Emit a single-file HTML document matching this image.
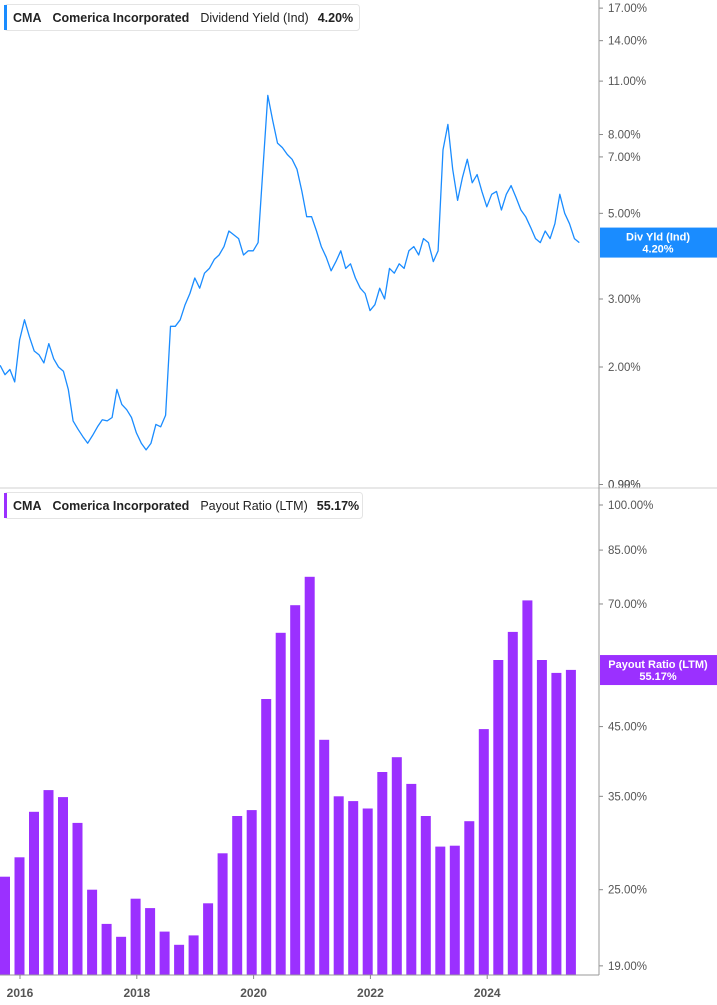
<!DOCTYPE html>
<html><head><meta charset="utf-8"><style>
html,body{margin:0;padding:0;background:#fff;}
svg{display:block;font-family:"Liberation Sans",Arial,sans-serif;}
</style></head><body>
<svg id="chart" width="717" height="1005" viewBox="0 0 717 1005">
<g id="topPanel"></g>
<g id="botPanel"></g>
<line x1="0" y1="488" x2="717" y2="488" stroke="#d0d0d0"/>
<line x1="599" y1="0" x2="599" y2="975" stroke="#999"/>
<line x1="0" y1="975" x2="599" y2="975" stroke="#999"/>
<g id="xaxis"></g>
<g>
<rect x="4.5" y="4.5" width="355" height="26" rx="3" fill="#fff" stroke="#e4e4e4"/>
<rect x="4" y="5" width="3" height="25" fill="#1a8cff"/>
<text x="13" y="22" font-size="12.5" font-weight="bold" fill="#222">CMA<tspan dx="11">Comerica Incorporated</tspan><tspan dx="11" font-weight="normal">Dividend Yield (Ind)</tspan><tspan dx="9">4.20%</tspan></text>
</g>
<g>
<rect x="4.5" y="492.5" width="358" height="26" rx="3" fill="#fff" stroke="#e4e4e4"/>
<rect x="4" y="493" width="3" height="25" fill="#9b30ff"/>
<text x="13" y="510" font-size="12.5" font-weight="bold" fill="#222">CMA<tspan dx="11">Comerica Incorporated</tspan><tspan dx="11" font-weight="normal">Payout Ratio (LTM)</tspan><tspan dx="9">55.17%</tspan></text>
</g>
</svg>
<script>
const yieldStart = 2015.66;
const yieldValues = [2.02,1.91,1.97,1.83,2.35,2.65,2.4,2.2,2.15,2.05,2.3,2.1,2.0,1.95,1.75,1.45,1.38,1.32,1.27,1.33,1.40,1.46,1.45,1.48,1.75,1.60,1.55,1.48,1.35,1.27,1.22,1.27,1.42,1.40,1.50,2.55,2.55,2.65,2.9,3.1,3.4,3.2,3.5,3.6,3.8,3.9,4.1,4.5,4.4,4.3,3.9,4.0,4.0,4.2,6.5,10.1,8.7,7.6,7.4,7.1,6.9,6.5,5.7,4.9,4.9,4.5,4.1,3.85,3.55,3.75,4.0,3.6,3.7,3.4,3.2,3.1,2.8,2.9,3.2,3.0,3.6,3.5,3.7,3.6,4.0,4.1,3.9,4.3,4.2,3.75,4.0,7.3,8.5,6.5,5.4,6.2,6.9,6.0,6.3,5.7,5.2,5.6,5.7,5.1,5.6,5.9,5.5,5.1,4.9,4.6,4.3,4.2,4.5,4.3,4.7,5.6,5.0,4.7,4.3,4.2];
const yieldTicks = [17,14,11,8,7,5,3,2,0.99,0.90];
const payoutStart = 2015.743;
const payoutValues = [26.2,28.1,33.1,35.8,34.9,31.8,25.0,22.1,21.1,24.2,23.4,21.5,20.5,21.2,23.8,28.5,32.6,33.3,49.7,63.1,69.7,77.2,42.9,35.0,34.4,33.5,38.2,40.3,36.6,32.6,29.2,29.3,32.0,44.6,57.2,63.3,70.9,57.2,54.6,55.2];
const payoutTicks = [100,85,70,45,35,25,19];
const xTickYears = [2016,2018,2020,2022,2024];
const lastYield = 4.20, lastPayout = 55.17;

const NS='http://www.w3.org/2000/svg';
function mk(t,a,p){const e=document.createElementNS(NS,t);for(const k in a)e.setAttribute(k,a[k]);p.appendChild(e);return e;}
const xOf = yr => 20 + (yr-2016)*58.4;
const yTop = v => 367 - Math.log(v/2)*167.7;
const yBot = v => 505 + Math.log(100/v)*277.5;
const topG=document.getElementById('topPanel'), botG=document.getElementById('botPanel'), xa=document.getElementById('xaxis');

yieldTicks.forEach(v=>{
  const y=Math.min(yTop(v),484.5);
  const t=mk('text',{x:608,y:y+4,'font-size':11.5,fill:'#555'},topG);
  t.textContent=v.toFixed(2)+'%';
  
  
  mk('line',{x1:599,y1:y,x2:603,y2:y,stroke:'#888'},topG);
});
let d='';
yieldValues.forEach((v,i)=>{const x=xOf(yieldStart+i/12);d+=(i?'L':'M')+x.toFixed(1)+' '+yTop(v).toFixed(1);});
const ln=mk('path',{d:d,fill:'none',stroke:'#1a8cff','stroke-width':1.3,'stroke-linejoin':'round'},topG);


const ty=yTop(lastYield);
const tg=mk('rect',{x:600,y:ty-15,width:117,height:30,fill:'#1a8cff'},topG);


let tt=mk('text',{x:658,y:ty-2,'text-anchor':'middle','font-size':11,'font-weight':'bold',fill:'#fff'},topG);tt.textContent='Div Yld (Ind)';
tt=mk('text',{x:658,y:ty+10,'text-anchor':'middle','font-size':11,'font-weight':'bold',fill:'#fff'},topG);tt.textContent=lastYield.toFixed(2)+'%';

payoutTicks.forEach(v=>{
  const y=yBot(v);
  const t=mk('text',{x:608,y:y+4,'font-size':11.5,fill:'#555'},botG);
  t.textContent=v.toFixed(2)+'%';
  
  
  mk('line',{x1:599,y1:y,x2:603,y2:y,stroke:'#888'},botG);
});
payoutValues.forEach((v,i)=>{
  const cx=xOf(payoutStart+i/4)-i*0.09;
  const y=yBot(v);
  const b=mk('rect',{x:(cx-5).toFixed(1),y:y.toFixed(1),width:10,height:(975-y).toFixed(1),fill:'#9b30ff'},botG);
  
  
});
const py=yBot(lastPayout);
const pg=mk('rect',{x:600,y:py-15,width:117,height:30,fill:'#9b30ff'},botG);


tt=mk('text',{x:658,y:py-2,'text-anchor':'middle','font-size':11,'font-weight':'bold',fill:'#fff'},botG);tt.textContent='Payout Ratio (LTM)';
tt=mk('text',{x:658,y:py+10,'text-anchor':'middle','font-size':11,'font-weight':'bold',fill:'#fff'},botG);tt.textContent=lastPayout.toFixed(2)+'%';

xTickYears.forEach(yr=>{
  const x=xOf(yr);
  mk('line',{x1:x,y1:975,x2:x,y2:979,stroke:'#888'},xa);
  const t=mk('text',{x:x,y:997,'text-anchor':'middle','font-size':12,'font-weight':'bold',fill:'#555'},xa);
  t.textContent=yr;
  
  
});
</script>
</body></html>
